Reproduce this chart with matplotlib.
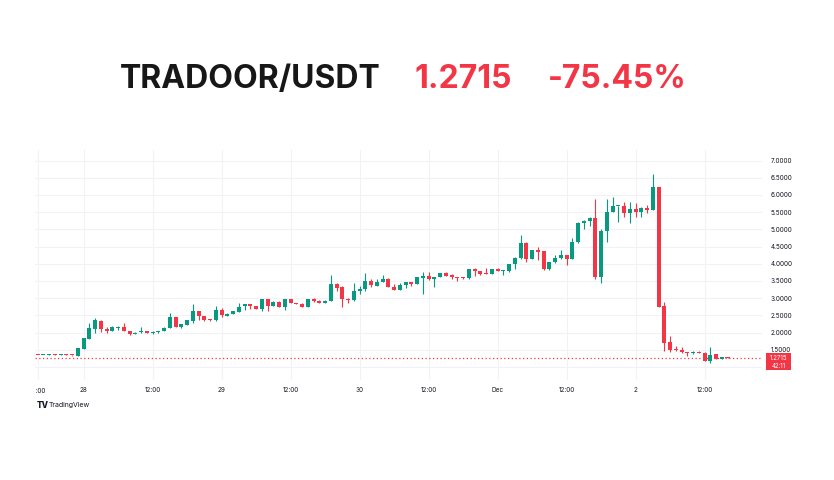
import matplotlib
matplotlib.use('Agg')
import matplotlib.pyplot as plt
from matplotlib.patches import Rectangle
from matplotlib.transforms import Bbox, TransformedBbox, blended_transform_factory

# hourly candles, hour 0 = 28 Nov 00:00
hours = list(range(-8, 113))
opens = [1.345, 1.34, 1.34, 1.36, 1.34, 1.38, 1.34, 1.33,
         1.53, 1.82, 2.11, 2.35, 2.10, 2.06, 2.13, 2.16, 2.05, 1.97, 2.01, 2.05,
         2.00, 2.01, 2.05, 2.14, 2.44, 2.15, 2.22, 2.35, 2.63, 2.48, 2.37, 2.36,
         2.66, 2.48, 2.55, 2.61, 2.76, 2.83, 2.77, 2.69, 2.97, 2.77, 2.90, 2.73,
         2.98, 2.85, 2.84, 2.75, 2.98, 2.93, 2.86, 2.93, 3.41, 3.34, 2.99, 2.95,
         3.21, 3.27, 3.50, 3.36, 3.47, 3.57, 3.33, 3.24, 3.37, 3.46, 3.41, 3.60,
         3.65, 3.55, 3.63, 3.72, 3.68, 3.61, 3.60, 3.58, 3.86, 3.79, 3.72, 3.70,
         3.86, 3.78, 3.79, 3.98, 4.18, 4.61, 4.14, 4.40, 4.37, 3.84, 4.06, 4.16,
         4.26, 4.14, 4.62, 5.18, 5.25, 5.34, 3.61, 4.95, 5.51, 5.67, 5.68, 5.48,
         5.58, 5.51, 5.63, 5.56, 6.22, 2.78, 1.73, 1.50, 1.50, 1.44, 1.40, 1.45,
         1.42, 1.18, 1.38, 1.24, 1.29]
closes = [1.34, 1.345, 1.36, 1.34, 1.38, 1.34, 1.335, 1.54,
          1.83, 2.14, 2.37, 2.11, 2.06, 2.15, 2.15, 2.05, 1.96, 2.00, 2.05, 1.99,
          2.01, 2.04, 2.14, 2.44, 2.16, 2.24, 2.36, 2.63, 2.49, 2.36, 2.36, 2.66,
          2.50, 2.55, 2.63, 2.74, 2.83, 2.76, 2.69, 2.97, 2.77, 2.90, 2.74, 2.97,
          2.87, 2.84, 2.75, 2.97, 2.91, 2.86, 2.93, 3.41, 3.31, 2.98, 2.96, 3.21,
          3.27, 3.50, 3.37, 3.47, 3.57, 3.34, 3.24, 3.38, 3.46, 3.40, 3.61, 3.65,
          3.55, 3.62, 3.72, 3.65, 3.61, 3.59, 3.59, 3.85, 3.79, 3.70, 3.70, 3.85,
          3.79, 3.80, 3.98, 4.18, 4.60, 4.13, 4.40, 4.35, 3.84, 4.04, 4.16, 4.26,
          4.15, 4.64, 5.20, 5.25, 5.34, 3.61, 4.95, 5.51, 5.68, 5.68, 5.48, 5.58,
          5.51, 5.63, 5.56, 6.24, 2.75, 1.71, 1.50, 1.48, 1.44, 1.40, 1.45, 1.41,
          1.18, 1.36, 1.24, 1.29, 1.2715]
highs = [1.35, 1.35, 1.365, 1.365, 1.385, 1.385, 1.345, 1.55,
         1.84, 2.29, 2.43, 2.36, 2.15, 2.19, 2.19, 2.29, 2.06, 2.01, 2.15, 2.06,
         2.04, 2.06, 2.15, 2.57, 2.45, 2.25, 2.37, 2.82, 2.64, 2.49, 2.39, 2.76,
         2.72, 2.58, 2.64, 2.85, 2.84, 2.84, 2.78, 2.99, 2.99, 2.91, 2.91, 2.98,
         2.99, 2.86, 2.85, 2.98, 3.00, 2.94, 2.94, 3.67, 3.45, 3.36, 3.02, 3.43,
         3.35, 3.72, 3.55, 3.55, 3.67, 3.58, 3.40, 3.43, 3.47, 3.47, 3.62, 3.77,
         3.76, 3.63, 3.73, 3.76, 3.69, 3.62, 3.61, 3.86, 3.89, 3.80, 3.87, 3.86,
         3.89, 3.81, 3.99, 4.19, 4.84, 4.62, 4.41, 4.50, 4.38, 4.05, 4.26, 4.41,
         4.27, 4.74, 5.21, 5.27, 5.35, 5.87, 5.00, 5.87, 5.93, 5.69, 5.81, 5.81,
         5.76, 5.64, 5.71, 6.61, 6.23, 2.90, 1.90, 1.60, 1.57, 1.45, 1.47, 1.46,
         1.43, 1.57, 1.39, 1.30, 1.30]
lows = [1.335, 1.335, 1.335, 1.335, 1.335, 1.335, 1.33, 1.33,
        1.52, 1.81, 1.98, 2.03, 1.98, 2.05, 2.08, 2.04, 1.92, 1.96, 2.00, 1.98,
        1.97, 2.00, 2.04, 2.12, 2.15, 2.12, 2.21, 2.27, 2.38, 2.33, 2.34, 2.35,
        2.44, 2.47, 2.54, 2.60, 2.65, 2.70, 2.68, 2.62, 2.64, 2.76, 2.73, 2.66,
        2.86, 2.83, 2.74, 2.74, 2.90, 2.85, 2.85, 2.92, 3.20, 2.75, 2.87, 2.93,
        3.11, 3.22, 3.33, 3.35, 3.46, 3.33, 3.23, 3.23, 3.31, 3.35, 3.40, 3.12,
        3.54, 3.33, 3.62, 3.64, 3.55, 3.49, 3.55, 3.57, 3.65, 3.67, 3.69, 3.69,
        3.78, 3.68, 3.75, 3.84, 4.13, 4.04, 4.13, 4.12, 3.82, 3.83, 4.01, 4.15,
        3.97, 4.13, 4.60, 5.00, 5.10, 3.56, 3.43, 4.64, 5.50, 5.21, 5.35, 5.20,
        5.37, 5.37, 5.48, 5.55, 2.74, 1.47, 1.45, 1.47, 1.42, 1.33, 1.39, 1.40,
        1.17, 1.13, 1.23, 1.23, 1.26]

x_ticks = [-8, 0, 12, 24, 36, 48, 60, 72, 84, 96, 108]
x_labels = ['16:00', '28', '12:00', '29', '12:00', '30', '12:00', 'Dec', '12:00', '2', '12:00']
y_ticks = [1.0, 1.5, 2.0, 2.5, 3.0, 3.5, 4.0, 4.5, 5.0, 5.5, 6.0, 6.5, 7.0]
last_price = 1.2715
countdown = '42:11'
pair = 'TRADOOR/USDT'
change = '-75.45%'

green = '#089981'
red = '#F23645'
grid_c = '#f0f2f6'
text_c = '#131722'

plt.rcParams['font.family'] = ['Inter', 'DejaVu Sans']

W, H = 834, 480
fig = plt.figure(figsize=(W / 100, H / 100), dpi=100)
ax = fig.add_axes([35 / W, 1 - 380 / H, (762 - 35) / W, (380 - 150) / H])

for x, o, h, l, c in zip(hours, opens, highs, lows, closes):
    col = green if c >= o else red
    ax.vlines(x, l, h, color=col, lw=0.8, zorder=3)
    body = max(abs(c - o), 0.03)
    ax.bar(x, body, bottom=min(o, c), width=0.7, color=col, lw=0, zorder=4)

ax.axhline(last_price, color=red, lw=0.9, linestyle=(0, (1, 2)), zorder=2)

ax.set_xlim(-8.47, 118.0)
ax.set_ylim(0.622, 7.308)
ax.set_xticks(x_ticks)
ax.set_xticklabels([''] + x_labels[1:])
ax.yaxis.tick_right()
ax.set_yticks(y_ticks)
ax.set_yticklabels([''] + ['%.4f' % v for v in y_ticks[1:]])
ax.tick_params(axis='both', length=0, labelsize=4.6, colors=text_c)
ax.tick_params(axis='x', pad=5)
ax.tick_params(axis='y', pad=6)
ax.grid(True, color=grid_c, lw=0.8, zorder=0)
for s in ax.spines.values():
    s.set_visible(False)

# first time label is cut off by the chart edge
lab = ax.text(-8, -0.035, x_labels[0], transform=blended_transform_factory(ax.transData, ax.transAxes),
              ha='center', va='top', fontsize=4.6, color=text_c)
lab.set_clip_box(TransformedBbox(Bbox([[0.35, 0], [W / 100, H / 100]]), fig.dpi_scale_trans))
lab.set_clip_on(True)

# last price tag, just under the price line
fig.patches.append(Rectangle((766 / W, 1 - 370 / H), 25 / W, 17 / H, transform=fig.transFigure,
                             facecolor=red, edgecolor='none'))
fig.text(778.5 / W, 1 - 357.5 / H, '%.4f' % last_price, fontsize=4.4, color='white', ha='center', va='center')
fig.text(778.5 / W, 1 - 365.5 / H, countdown, fontsize=4.4, color='white', ha='center', va='center')

# title
base = 1 - 88.5 / H
fig.text(120 / W, base, pair, fontsize=23, fontweight='bold', color='#171717', va='baseline')
fig.text(415 / W, base, '%.4f' % last_price, fontsize=23, fontweight='bold', color=red, va='baseline')
fig.text(548 / W, base, change, fontsize=23, fontweight='bold', color=red, va='baseline')

# logo
fig.text(37 / W, 1 - 405 / H, 'TV', fontsize=6, fontweight='heavy', color=text_c, va='center')
fig.text(49 / W, 1 - 405 / H, 'TradingView', fontsize=5, color=text_c, va='center')

fig.savefig('out.png', dpi=100)
